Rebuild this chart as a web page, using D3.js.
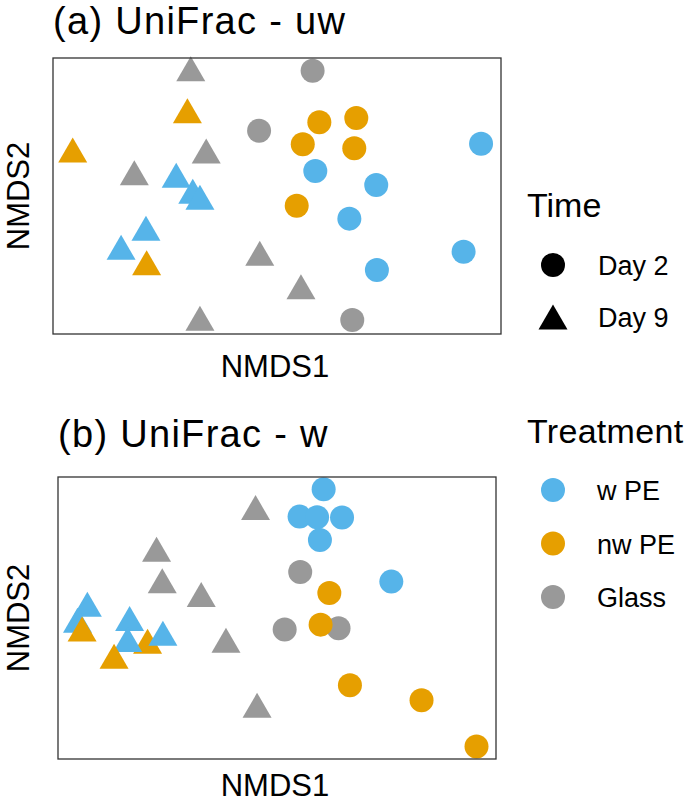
<!DOCTYPE html>
<html>
<head>
<meta charset="utf-8">
<script src="https://cdn.jsdelivr.net/npm/d3@7"></script>
<style>
  body { margin: 0; background: #fff; }
  svg text { font-family: "Liberation Sans", Arial, sans-serif; fill: #000; }
</style>
</head>
<body>
<svg id="plate" width="685" height="805"></svg>
<script>
// treatments and colours
var treatments = ['w PE', 'nw PE', 'Glass'];
var treatmentColors = ['#56B4E9', '#E69F00', '#999999'];
var times = ['Day 2', 'Day 9'];

// panel (a) UniFrac - uw
var aNmds1 = [-0.385, -0.400, -0.912, -0.316, -0.637, -0.450, -0.376, -0.344, -0.585, -0.696, -0.582, -0.077, 0.107, -0.344,
    0.159, -0.080, 0.189, 0.354, 0.115, 0.345, 0.171, 0.443, 0.088, 0.323, 0.911, 0.833, 0.446, 0.336];
var aNmds2 = [0.922, 0.618, 0.333, 0.326, 0.169, 0.150, 0.034, -0.009, -0.234, -0.372, -0.483, -0.415, -0.657, -0.886,
    0.908, 0.473, 0.534, 0.565, 0.375, 0.346, 0.181, 0.080, -0.070, -0.164, 0.379, -0.404, -0.536, -0.899];
var aTreatment = ['Glass', 'nw PE', 'nw PE', 'Glass', 'Glass', 'w PE', 'w PE', 'w PE', 'w PE', 'w PE', 'nw PE', 'Glass', 'Glass', 'Glass',
    'Glass', 'Glass', 'nw PE', 'nw PE', 'nw PE', 'nw PE', 'w PE', 'w PE', 'nw PE', 'w PE', 'w PE', 'w PE', 'w PE', 'Glass'];
var aTime = ['Day 9', 'Day 9', 'Day 9', 'Day 9', 'Day 9', 'Day 9', 'Day 9', 'Day 9', 'Day 9', 'Day 9', 'Day 9', 'Day 9', 'Day 9', 'Day 9',
    'Day 2', 'Day 2', 'Day 2', 'Day 2', 'Day 2', 'Day 2', 'Day 2', 'Day 2', 'Day 2', 'Day 2', 'Day 2', 'Day 2', 'Day 2', 'Day 2'];

// panel (b) UniFrac - w
var bNmds1 = [-0.098, -0.550, -0.524, -0.346, -0.233, -0.091, -0.866, -0.911, -0.890, -0.591, -0.673, -0.682, -0.521, -0.744,
    0.213, 0.103, 0.183, 0.297, 0.196, 0.106, 0.522, 0.239, 0.035, 0.281, 0.199, 0.333, 0.660, 0.911];
var bNmds2 = [0.783, 0.487, 0.265, 0.166, -0.158, -0.619, 0.097, -0.016, -0.078, -0.165, -0.004, -0.153, -0.109, -0.272,
    0.913, 0.719, 0.714, 0.712, 0.553, 0.326, 0.258, 0.177, -0.082, -0.073, -0.047, -0.477, -0.584, -0.912];
var bTreatment = ['Glass', 'Glass', 'Glass', 'Glass', 'Glass', 'Glass', 'w PE', 'w PE', 'nw PE', 'nw PE', 'w PE', 'w PE', 'w PE', 'nw PE',
    'w PE', 'w PE', 'w PE', 'w PE', 'w PE', 'Glass', 'w PE', 'nw PE', 'Glass', 'Glass', 'nw PE', 'nw PE', 'nw PE', 'nw PE'];
var bTime = aTime;

var color = d3.scaleOrdinal().domain(treatments).range(treatmentColors);

// triangle centred on its bounding box, pointing up
function triangle(w, h) {
    return 'M0,' + (-h / 2) + 'L' + (w / 2) + ',' + (h / 2) + 'L' + (-w / 2) + ',' + (h / 2) + 'Z';
}

var svg = d3.select('#plate');

function drawPanel(title, titleY, xLabelY, box, nmds1, nmds2, treatment, time) {
    var x = d3.scaleLinear().domain([-1, 1]).range([box.left, box.right]);
    var y = d3.scaleLinear().domain([-1, 1]).range([box.bottom, box.top]);
    var g = svg.append('g');

    var rows = nmds1.map(function(d, i) {
        return {x: d, y: nmds2[i], treatment: treatment[i], time: time[i]};
    });

    g.selectAll('.pt')
        .data(rows)
        .enter()
        .append('path')
        .attr('class', 'pt')
        .attr('transform', function(d) { return 'translate(' + x(d.x) + ',' + y(d.y) + ')'; })
        .attr('d', function(d) {
            return d.time === 'Day 2' ? d3.symbol(d3.symbolCircle, Math.PI * 12 * 12)() : triangle(29, 25);
        })
        .attr('fill', function(d) { return color(d.treatment); });

    // panel border
    g.append('rect')
        .attr('x', box.left)
        .attr('y', box.top)
        .attr('width', box.right - box.left)
        .attr('height', box.bottom - box.top)
        .attr('fill', 'none')
        .attr('stroke', '#333')
        .attr('stroke-width', 1.3);

    g.append('text')
        .attr('x', box.left)
        .attr('y', titleY)
        .style('font-size', '38px')
        .style('letter-spacing', '1.3px')
        .text(title);

    g.append('text')
        .attr('x', (box.left + box.right) / 2 - 2)
        .attr('y', xLabelY)
        .attr('text-anchor', 'middle')
        .style('font-size', '31px')
        .text('NMDS1');

    g.append('text')
        .attr('transform', 'translate(29,' + (box.top + box.bottom) / 2 + ') rotate(-90)')
        .attr('text-anchor', 'middle')
        .style('font-size', '31px')
        .text('NMDS2');
}

drawPanel('(a) UniFrac - uw', 34, 377, {left: 53, right: 501, top: 58, bottom: 334}, aNmds1, aNmds2, aTreatment, aTime);
drawPanel('(b) UniFrac - w', 447, 796, {left: 58, right: 496, top: 477, bottom: 759}, bNmds1, bNmds2, bTreatment, bTime);

// legends
var legend = svg.append('g');
legend.append('text').attr('x', 527).attr('y', 217).style('font-size', '34px').text('Time');
var timeY = d3.scalePoint().domain(times).range([265, 317]);
legend.selectAll('.tk')
    .data(times)
    .enter()
    .append('path')
    .attr('transform', function(d) { return 'translate(553,' + timeY(d) + ')'; })
    .attr('d', function(d) {
        return d === 'Day 2' ? d3.symbol(d3.symbolCircle, Math.PI * 12 * 12)() : triangle(29, 25);
    })
    .attr('fill', '#000');
legend.selectAll('.tl')
    .data(times)
    .enter()
    .append('text')
    .attr('x', 598)
    .attr('y', function(d) { return timeY(d) + 10; })
    .style('font-size', '27px')
    .text(function(d) { return d; });

legend.append('text').attr('x', 527).attr('y', 443).style('font-size', '34px').style('letter-spacing', '0.3px').text('Treatment');
var treatY = d3.scalePoint().domain(treatments).range([490, 597]);
legend.selectAll('.ck')
    .data(treatments)
    .enter()
    .append('circle')
    .attr('cx', 553)
    .attr('cy', function(d) { return treatY(d); })
    .attr('r', 12)
    .attr('fill', function(d) { return color(d); });
legend.selectAll('.cl')
    .data(treatments)
    .enter()
    .append('text')
    .attr('x', 597)
    .attr('y', function(d) { return treatY(d) + 10; })
    .style('font-size', '27px')
    .text(function(d) { return d; });
</script>
</body>
</html>
